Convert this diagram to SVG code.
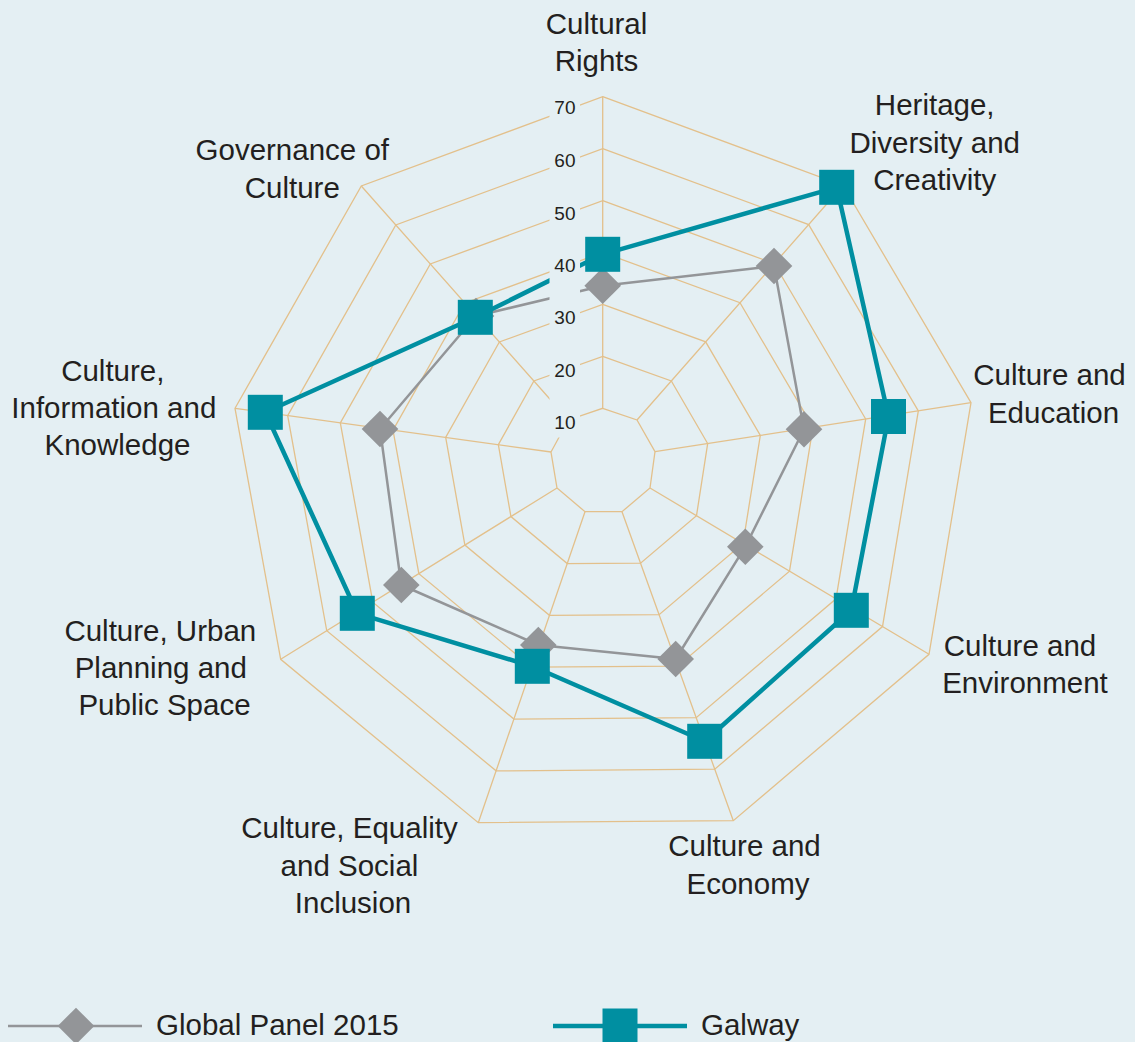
<svg xmlns="http://www.w3.org/2000/svg" xmlns:xlink="http://www.w3.org/1999/xlink" width="1135" height="1042" viewBox="0 0 1135 1042">
<style>
.grid{fill:none;stroke:#e3c08b;stroke-width:1.3}
.tick{font-family:"Liberation Sans",Arial,sans-serif;font-size:19px;fill:#231f20;text-anchor:end}
.lbl{font-family:"Liberation Sans",Arial,sans-serif;font-size:29.5px;fill:#231f20;text-anchor:middle}
.leg{font-family:"Liberation Sans",Arial,sans-serif;font-size:29.5px;fill:#231f20}
.gline{fill:none;stroke:#939598;stroke-width:2.5;stroke-linejoin:round}
.tline{fill:none;stroke:#008fa1;stroke-width:4.5;stroke-linejoin:round}
.gm{fill:#939598}
.tm{fill:#008fa1}
</style>
<defs>
<path id="dia" d="M0,-18.3 L18.3,0 L0,18.3 L-18.3,0Z"/>
<rect id="sq" x="-17.5" y="-17.5" width="35" height="35"/>
</defs>
<rect width="1135" height="1042" fill="#e4eff3"/>
<g id="grid">
<polygon class="grid" points="602.7,408.3 637,420 655,451.7 650,488 622,511.7 585,511.7 557,488 551,452 568.4,420"/>
<polygon class="grid" points="602.7,356.37 671.33,380.92 707.67,443.53 696.5,515.72 640.55,563.2 567.22,563.53 510.95,516.55 498.33,444.72 533.88,381"/>
<polygon class="grid" points="602.7,304.43 705.67,341.83 760.33,435.37 743,543.43 659.1,614.7 549.43,615.37 464.9,545.1 445.67,437.43 499.37,342"/>
<polygon class="grid" points="602.7,252.5 740,302.75 813,427.2 789.5,571.15 677.65,666.2 531.65,667.2 418.85,573.65 393,430.15 464.85,303"/>
<polygon class="grid" points="602.7,200.57 774.33,263.67 865.67,419.03 836,598.87 696.2,717.7 513.87,719.03 372.8,602.2 340.33,422.87 430.33,264"/>
<polygon class="grid" points="602.7,148.63 808.67,224.58 918.33,410.87 882.5,626.58 714.75,769.2 496.08,770.87 326.75,630.75 287.67,415.58 395.8,225"/>
<polygon class="grid" points="602.7,96.7 843,185.5 971,402.7 929,654.3 733.3,820.7 478.3,822.7 280.7,659.3 235,408.3 361.3,186"/>
<path class="grid" d="M602.7,408.3L602.7,96.7M637,420L843,185.5M655,451.7L971,402.7M650,488L929,654.3M622,511.7L733.3,820.7M585,511.7L478.3,822.7M557,488L280.7,659.3M551,452L235,408.3M568.4,420L361.3,186"/>
</g>
<g id="connectors">
<polygon id="global-line" class="gline" points="602.7,285.7 774,266 804,429.3 745.3,546.7 675.7,659 538.3,645 401.3,585 380,429 476,316"/>
<polygon id="galway-line" class="tline" points="602.7,254.3 836.7,187.3 888.5,416.5 851.3,610.3 704.7,741.3 532.3,666.3 357.3,613.3 265.3,412.3 475.3,317.3"/>
</g>
<g id="global-markers" class="gm">
<use xlink:href="#dia" x="602.7" y="285.7"/>
<use xlink:href="#dia" x="774" y="266"/>
<use xlink:href="#dia" x="804" y="429.3"/>
<use xlink:href="#dia" x="745.3" y="546.7"/>
<use xlink:href="#dia" x="675.7" y="659"/>
<use xlink:href="#dia" x="538.3" y="645"/>
<use xlink:href="#dia" x="401.3" y="585"/>
<use xlink:href="#dia" x="380" y="429"/>
<use xlink:href="#dia" x="476" y="316"/>
</g>
<g id="galway-markers" class="tm">
<use xlink:href="#sq" x="602.7" y="254.3"/>
<use xlink:href="#sq" x="836.7" y="187.3"/>
<use xlink:href="#sq" x="888.5" y="416.5"/>
<use xlink:href="#sq" x="851.3" y="610.3"/>
<use xlink:href="#sq" x="704.7" y="741.3"/>
<use xlink:href="#sq" x="532.3" y="666.3"/>
<use xlink:href="#sq" x="357.3" y="613.3"/>
<use xlink:href="#sq" x="265.3" y="412.3"/>
<use xlink:href="#sq" x="475.3" y="317.3"/>
</g>
<g id="ticks">
<rect x="549.5" y="95" width="30.5" height="342.5" fill="#e4eff3"/>
<text class="tick" x="575.5" y="114">70</text>
<text class="tick" x="575.5" y="167">60</text>
<text class="tick" x="575.5" y="219.5">50</text>
<text class="tick" x="575.5" y="272">40</text>
<text class="tick" x="575.5" y="324">30</text>
<text class="tick" x="575.5" y="376.5">20</text>
<text class="tick" x="575.5" y="429">10</text>
</g>
<g id="axis-cultural-rights"><text class="lbl" x="596.5" y="34.3">Cultural</text><text class="lbl" x="596.5" y="71.3">Rights</text></g>
<g id="axis-heritage"><text class="lbl" x="934.7" y="115">Heritage,</text><text class="lbl" x="934.7" y="152.7">Diversity and</text><text class="lbl" x="934.7" y="190">Creativity</text></g>
<g id="axis-education"><text class="lbl" x="1049.5" y="385">Culture and</text><text class="lbl" x="1053.5" y="422.7">Education</text></g>
<g id="axis-environment"><text class="lbl" x="1020" y="655.5">Culture and</text><text class="lbl" x="1025" y="693">Environment</text></g>
<g id="axis-economy"><text class="lbl" x="744.5" y="856">Culture and</text><text class="lbl" x="748" y="893.5">Economy</text></g>
<g id="axis-equality"><text class="lbl" x="349.5" y="838">Culture, Equality</text><text class="lbl" x="349.5" y="875.5">and Social</text><text class="lbl" x="353" y="912.5">Inclusion</text></g>
<g id="axis-urban"><text class="lbl" x="160.3" y="641">Culture, Urban</text><text class="lbl" x="160.8" y="678.3">Planning and</text><text class="lbl" x="164.5" y="715">Public Space</text></g>
<g id="axis-information"><text class="lbl" x="112.8" y="380.7">Culture,</text><text class="lbl" x="113.8" y="418.3">Information and</text><text class="lbl" x="117.5" y="455">Knowledge</text></g>
<g id="axis-governance"><text class="lbl" x="292.3" y="160">Governance of</text><text class="lbl" x="292.3" y="197.7">Culture</text></g>
<g id="legend">
<g id="legend-global"><line class="gline" x1="8" y1="1026" x2="142" y2="1026"/><use class="gm" xlink:href="#dia" x="76" y="1026"/><text class="leg" x="156" y="1035">Global Panel 2015</text></g>
<g id="legend-galway"><line class="tline" x1="553" y1="1026" x2="687" y2="1026"/><use class="tm" xlink:href="#sq" x="620" y="1026"/><text class="leg" x="701" y="1035">Galway</text></g>
</g>
</svg>
